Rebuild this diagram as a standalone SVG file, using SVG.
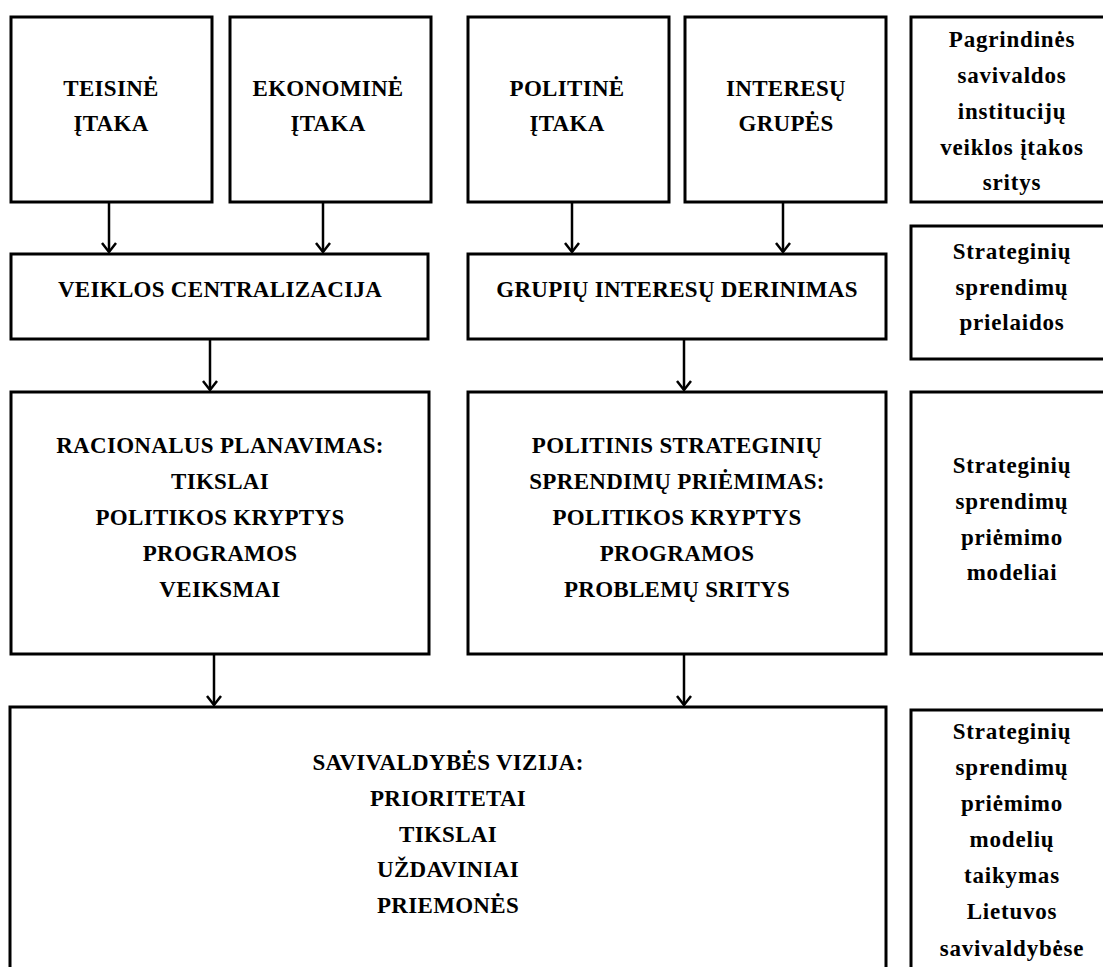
<svg xmlns="http://www.w3.org/2000/svg" width="1103" height="967" viewBox="0 0 1103 967">
<style>
.box{fill:#fff;stroke:#000;stroke-width:3}
.t{font-family:"Liberation Serif","Times New Roman",serif;font-weight:bold;font-size:23px;fill:#000;text-anchor:middle;letter-spacing:0.3px}
.r{letter-spacing:0.8px}
.c line{stroke:#000;stroke-width:2.5}
.c path{fill:none;stroke:#000;stroke-width:2.5}
</style>
<rect width="1103" height="967" fill="#fff"/>
<g id="teisine">
<rect class="box" x="11" y="17" width="201" height="185"/>
<text class="t" x="111" y="96">TEISINĖ</text>
<text class="t" x="111" y="131">ĮTAKA</text>
</g>
<g id="ekonomine">
<rect class="box" x="230" y="17" width="201" height="185"/>
<text class="t" x="328" y="96">EKONOMINĖ</text>
<text class="t" x="328" y="131">ĮTAKA</text>
</g>
<g id="politine">
<rect class="box" x="468" y="17" width="201" height="185"/>
<text class="t" x="567" y="96">POLITINĖ</text>
<text class="t" x="567" y="131">ĮTAKA</text>
</g>
<g id="interesu">
<rect class="box" x="685" y="17" width="201" height="185"/>
<text class="t" x="786" y="96">INTERESŲ</text>
<text class="t" x="786" y="131">GRUPĖS</text>
</g>
<g id="pagrindines">
<rect class="box" x="911" y="17" width="200" height="185"/>
<text class="t r" x="1012" y="47">Pagrindinės</text>
<text class="t r" x="1012" y="83">savivaldos</text>
<text class="t r" x="1012" y="119">institucijų</text>
<text class="t r" x="1012" y="155">veiklos įtakos</text>
<text class="t r" x="1012" y="190">sritys</text>
</g>
<g id="veiklos">
<rect class="box" x="11" y="254" width="417" height="85"/>
<text class="t" x="220" y="297">VEIKLOS CENTRALIZACIJA</text>
</g>
<g id="grupiu">
<rect class="box" x="468" y="254" width="418" height="85"/>
<text class="t" x="677" y="297">GRUPIŲ INTERESŲ DERINIMAS</text>
</g>
<g id="prielaidos">
<rect class="box" x="911" y="226" width="200" height="133"/>
<text class="t r" x="1012" y="259">Strateginių</text>
<text class="t r" x="1012" y="295">sprendimų</text>
<text class="t r" x="1012" y="330">prielaidos</text>
</g>
<g id="racionalus">
<rect class="box" x="11" y="392" width="418" height="262"/>
<text class="t" x="220" y="453">RACIONALUS PLANAVIMAS:</text>
<text class="t" x="220" y="489">TIKSLAI</text>
<text class="t" x="220" y="525">POLITIKOS KRYPTYS</text>
<text class="t" x="220" y="561">PROGRAMOS</text>
<text class="t" x="220" y="597">VEIKSMAI</text>
</g>
<g id="politinis">
<rect class="box" x="468" y="392" width="418" height="262"/>
<text class="t" x="677" y="453">POLITINIS STRATEGINIŲ</text>
<text class="t" x="677" y="489">SPRENDIMŲ PRIĖMIMAS:</text>
<text class="t" x="677" y="525">POLITIKOS KRYPTYS</text>
<text class="t" x="677" y="561">PROGRAMOS</text>
<text class="t" x="677" y="597">PROBLEMŲ SRITYS</text>
</g>
<g id="modeliai">
<rect class="box" x="911" y="392" width="200" height="262"/>
<text class="t r" x="1012" y="473">Strateginių</text>
<text class="t r" x="1012" y="509">sprendimų</text>
<text class="t r" x="1012" y="545">priėmimo</text>
<text class="t r" x="1012" y="580">modeliai</text>
</g>
<g id="vizija">
<rect class="box" x="10" y="707" width="876" height="280"/>
<text class="t" x="448" y="770">SAVIVALDYBĖS VIZIJA:</text>
<text class="t" x="448" y="806">PRIORITETAI</text>
<text class="t" x="448" y="842">TIKSLAI</text>
<text class="t" x="448" y="877">UŽDAVINIAI</text>
<text class="t" x="448" y="913">PRIEMONĖS</text>
</g>
<g id="taikymas">
<rect class="box" x="911" y="710" width="200" height="280"/>
<text class="t r" x="1012" y="739">Strateginių</text>
<text class="t r" x="1012" y="775">sprendimų</text>
<text class="t r" x="1012" y="811">priėmimo</text>
<text class="t r" x="1012" y="847">modelių</text>
<text class="t r" x="1012" y="883">taikymas</text>
<text class="t r" x="1012" y="919">Lietuvos</text>
<text class="t r" x="1012" y="956">savivaldybėse</text>
</g>
<g id="connectors" class="c">
<line x1="109" y1="202" x2="109" y2="252"/><path d="M102,243 L109,252 L116,243"/>
<line x1="323" y1="202" x2="323" y2="252"/><path d="M316,243 L323,252 L330,243"/>
<line x1="572" y1="202" x2="572" y2="252"/><path d="M565,243 L572,252 L579,243"/>
<line x1="783" y1="202" x2="783" y2="252"/><path d="M776,243 L783,252 L790,243"/>
<line x1="210" y1="339" x2="210" y2="390"/><path d="M203,381 L210,390 L217,381"/>
<line x1="684" y1="339" x2="684" y2="390"/><path d="M677,381 L684,390 L691,381"/>
<line x1="214" y1="654" x2="214" y2="705"/><path d="M207,696 L214,705 L221,696"/>
<line x1="684" y1="654" x2="684" y2="705"/><path d="M677,696 L684,705 L691,696"/>
</g>
</svg>
